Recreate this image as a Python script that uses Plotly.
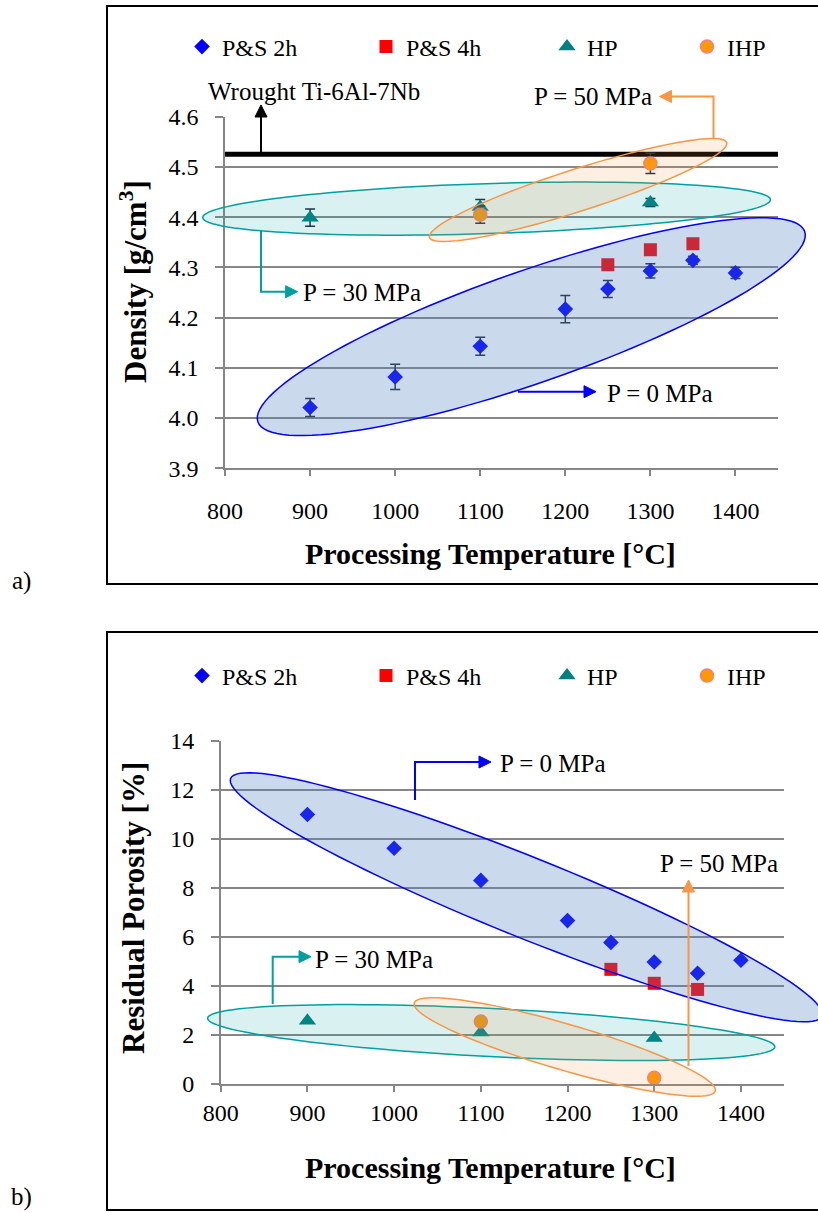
import math
import plotly.graph_objects as go

W, H = 818, 1213

# ---------------- data ----------------
temp_ps2 = [900, 1000, 1100, 1200, 1250, 1300, 1350, 1400]
temp_ps4 = [1250, 1300, 1350]
temp_hp = [900, 1100, 1300]
temp_ihp = [1100, 1300]

dens_ps2 = [4.021, 4.082, 4.143, 4.217, 4.257, 4.293, 4.314, 4.289]
dens_ps2_err = [0.018, 0.025, 0.018, 0.027, 0.017, 0.014, 0.008, 0.011]
dens_ps4 = [4.305, 4.335, 4.347]
dens_ps4_err = [0.006, 0.008, 0.006]
dens_hp = [4.399, 4.42, 4.429]
dens_hp_err = [0.017, 0.015, 0.008]
dens_ihp = [4.405, 4.507]
dens_ihp_err = [0.017, 0.02]
wrought_density = 4.525

por_ps2 = [11.0, 9.62, 8.31, 6.67, 5.78, 4.98, 4.52, 5.05]
por_ps4 = [4.68, 4.11, 3.86]
por_hp = [2.58, 2.1, 1.88]
por_ihp = [2.55, 0.25]

series_names = ["P&S 2h", "P&S 4h", "HP", "IHP"]
x_ticks = [800, 900, 1000, 1100, 1200, 1300, 1400]

# ---------------- geometry helpers ----------------
FONT = "Liberation Serif"

# pixel frames of the two plot areas
PA = dict(x0=225, x1=778, y0=468.3, y1=116.7, xr=(800, 1450), yr=(3.9, 4.6))
PB = dict(x0=220.7, x1=784.3, y0=1084, y1=741, xr=(800, 1450), yr=(0, 14))


def px(x):
    return x / W


def py(y):
    return 1 - y / H


def d2p(p, x, y):
    X = p["x0"] + (x - p["xr"][0]) / (p["xr"][1] - p["xr"][0]) * (p["x1"] - p["x0"])
    Y = p["y0"] + (y - p["yr"][0]) / (p["yr"][1] - p["yr"][0]) * (p["y1"] - p["y0"])
    return X, Y


def ellipse_path(p, cx, cy, a, b, ang, n=120):
    X0, Y0 = d2p(p, cx, cy)
    th = math.radians(ang)
    pts = []
    for i in range(n):
        t = 2 * math.pi * i / n
        X = X0 + a * math.cos(t) * math.cos(th) - b * math.sin(t) * math.sin(th)
        Y = Y0 - (a * math.cos(t) * math.sin(th) + b * math.sin(t) * math.cos(th))
        pts.append((px(X), py(Y)))
    return "M " + " L ".join(f"{u:.5f},{v:.5f}" for u, v in pts) + " Z"


def poly_path(points, close=False):
    s = "M " + " L ".join(f"{px(u):.5f},{py(v):.5f}" for u, v in points)
    return s + (" Z" if close else "")


BLUE = "#0000FF"
RED = "#FF0000"
TEAL = "#008080"
ORANGE = "#FF9900"
ERR = "#1E2A38"

markers = [
    dict(symbol="diamond", size=12, color=BLUE),
    dict(symbol="square", size=13, color=RED),
    dict(symbol="triangle-up", size=15, color=TEAL),
    dict(symbol="circle", size=13, color=ORANGE, line=dict(color="#F28080", width=1.5)),
]

fig = go.Figure()

# wrought line
fig.add_trace(go.Scatter(x=[800, 1450], y=[wrought_density, wrought_density], mode="lines",
                         line=dict(color="black", width=5), showlegend=False,
                         xaxis="x", yaxis="y", hoverinfo="skip"))

temps = [temp_ps2, temp_ps4, temp_hp, temp_ihp]
dens = [dens_ps2, dens_ps4, dens_hp, dens_ihp]
derr = [dens_ps2_err, dens_ps4_err, dens_hp_err, dens_ihp_err]
pors = [por_ps2, por_ps4, por_hp, por_ihp]

legend_a = ["legend", "legend2", "legend3", "legend4"]
legend_b = ["legend5", "legend6", "legend7", "legend8"]

for i in range(4):
    fig.add_trace(go.Scatter(
        x=temps[i], y=dens[i], mode="markers", name=series_names[i], marker=markers[i],
        error_y=dict(type="data", array=derr[i], color=ERR, thickness=1.5, width=5),
        xaxis="x", yaxis="y", legend=legend_a[i]))
for i in range(4):
    fig.add_trace(go.Scatter(
        x=temps[i], y=pors[i], mode="markers", name=series_names[i], marker=markers[i],
        xaxis="x2", yaxis="y2", legend=legend_b[i]))

# ---------------- axes ----------------
tickfont = dict(family=FONT, size=24, color="black")
common_x = dict(range=[800, 1450], tickvals=x_ticks, showgrid=False, showline=True,
                linecolor="#868686", linewidth=1.5, ticks="outside", ticklen=6,
                tickcolor="#868686", tickwidth=1.5, tickfont=tickfont, zeroline=False,
                automargin=False)
common_y = dict(showgrid=True, gridcolor="#868686", gridwidth=1.5, showline=True,
                linecolor="#868686", linewidth=1.5, ticks="outside", ticklen=8,
                tickcolor="#868686", tickwidth=1.5, tickfont=tickfont, zeroline=False,
                automargin=False)

layout = dict(
    width=W, height=H, margin=dict(l=0, r=0, t=0, b=0),
    paper_bgcolor="white", plot_bgcolor="white",
    xaxis=dict(common_x, domain=[px(PA["x0"]), px(PA["x1"])], anchor="y", ticklabelstandoff=14),
    yaxis=dict(common_y, domain=[py(PA["y0"]), py(PA["y1"])], anchor="x", range=[3.9, 4.6],
               dtick=0.1, tick0=3.9, tickformat=".1f", ticklabelstandoff=12),
    xaxis2=dict(common_x, domain=[px(PB["x0"]), px(PB["x1"])], anchor="y2", ticklabelstandoff=0),
    yaxis2=dict(common_y, domain=[py(PB["y0"]), py(PB["y1"])], anchor="x2", range=[0, 14],
                dtick=2, tick0=0, ticklabelstandoff=12),
)

legend_font = dict(family=FONT, size=24, color="black")
leg_x = [201, 385, 566, 706]
for names, yc in ((legend_a, 47), (legend_b, 676)):
    for nm, xc in zip(names, leg_x):
        layout[nm] = dict(x=px(xc - 19), y=py(yc), xanchor="left", yanchor="middle",
                          orientation="h", font=legend_font, bgcolor="rgba(0,0,0,0)",
                          itemwidth=30, borderwidth=0)

fig.update_layout(**layout)

# ---------------- ellipses ----------------
ell = [
    # panel, cx, cy (data), semi-axes (px), angle, line, fill
    (PA, 1160, 4.182, 289.5, 56, 19.2, BLUE, "rgba(79,129,189,0.30)"),
    (PA, 1107.5, 4.417, 284, 25, 1.8, "#00A0A0", "rgba(0,160,160,0.15)"),
    (PA, 1215, 4.454, 156, 21, 17.7, "#F79646", "rgba(247,150,70,0.15)"),
    (PB, 1152.5, 7.62, 318.7, 40, -21.9, BLUE, "rgba(79,129,189,0.30)"),
    (PB, 1112, 2.10, 284, 24, -2.9, "#00A0A0", "rgba(0,160,160,0.15)"),
    (PB, 1196.8, 1.51, 156.8, 23, -16.3, "#F79646", "rgba(247,150,70,0.15)"),
]
shapes = []
for p, cx, cy, a, b, ang, lc, fc in ell:
    shapes.append(dict(type="path", xref="paper", yref="paper", layer="above",
                       path=ellipse_path(p, cx, cy, a, b, ang),
                       line=dict(color=lc, width=1.5), fillcolor=fc))

# panel boxes
for top, bot in ((6, 584), (632, 1210)):
    shapes.append(dict(type="rect", xref="paper", yref="paper", x0=px(107), x1=px(830),
                       y0=py(bot), y1=py(top), line=dict(color="black", width=2)))


def connector(points, color, head_len=12, head_half=6):
    """polyline whose last point is the arrow tip, with a filled triangular head"""
    (x1, y1), (x2, y2) = points[-2], points[-1]
    d = math.hypot(x2 - x1, y2 - y1)
    ux, uy = (x2 - x1) / d, (y2 - y1) / d
    bx, by = x2 - ux * head_len, y2 - uy * head_len
    line_pts = points[:-1] + [(bx, by)]
    shapes.append(dict(type="path", xref="paper", yref="paper", path=poly_path(line_pts),
                       line=dict(color=color, width=2)))
    head = [(x2, y2), (bx - uy * head_half, by + ux * head_half),
            (bx + uy * head_half, by - ux * head_half)]
    shapes.append(dict(type="path", xref="paper", yref="paper", path=poly_path(head, close=True),
                       line=dict(color=color, width=1), fillcolor=color))


connector([(261, 152), (261, 105)], "black")
connector([(713.5, 138), (713.5, 96.5), (659.5, 96.5)], "#F79646")
connector([(261, 231), (261, 291.7), (297.6, 291.7)], "#00A0A0")
connector([(518, 391.7), (596, 391.7)], BLUE)
connector([(415, 800), (415, 762), (491, 762)], BLUE)
connector([(272.7, 1004), (272.7, 956.7), (311, 956.7)], "#00A0A0")
connector([(688.5, 1066), (688.5, 880)], "#F79646")

fig.update_layout(shapes=shapes)

# ---------------- annotations ----------------
ann = []


def label(text, x, y, xanchor="left", size=25, bold=False, angle=0):
    t = f"<b>{text}</b>" if bold else text
    ann.append(dict(xref="paper", yref="paper", x=px(x), y=py(y), text=t, showarrow=False,
                    xanchor=xanchor, yanchor="middle", textangle=angle,
                    font=dict(family=FONT, size=size, color="black")))


label("Wrought Ti-6Al-7Nb", 206, 91)
label("P = 50 MPa", 654, 96.5, xanchor="right")
label("P = 30 MPa", 301, 292)
label("P = 0 MPa", 605, 393)
label("P = 0 MPa", 498, 763)
label("P = 30 MPa", 313, 959)
label("P = 50 MPa", 658, 863)

label("Processing Temperature [°C]", 490, 553, xanchor="center", size=30, bold=True)
label("Processing Temperature [°C]", 490, 1167, xanchor="center", size=30, bold=True)
label("Density [g/cm<sup>3</sup>]", 134, 282, xanchor="center", size=31, bold=True, angle=-90)
label("Residual Porosity [%]", 134, 908, xanchor="center", size=31, bold=True, angle=-90)
label("a)", 21, 581, xanchor="center", size=25)
label("b)", 21, 1197, xanchor="center", size=25)

fig.update_layout(annotations=ann)

fig.write_html("out.html", config={"displayModeBar": False},
               post_script="document.body.style.margin='0';")
